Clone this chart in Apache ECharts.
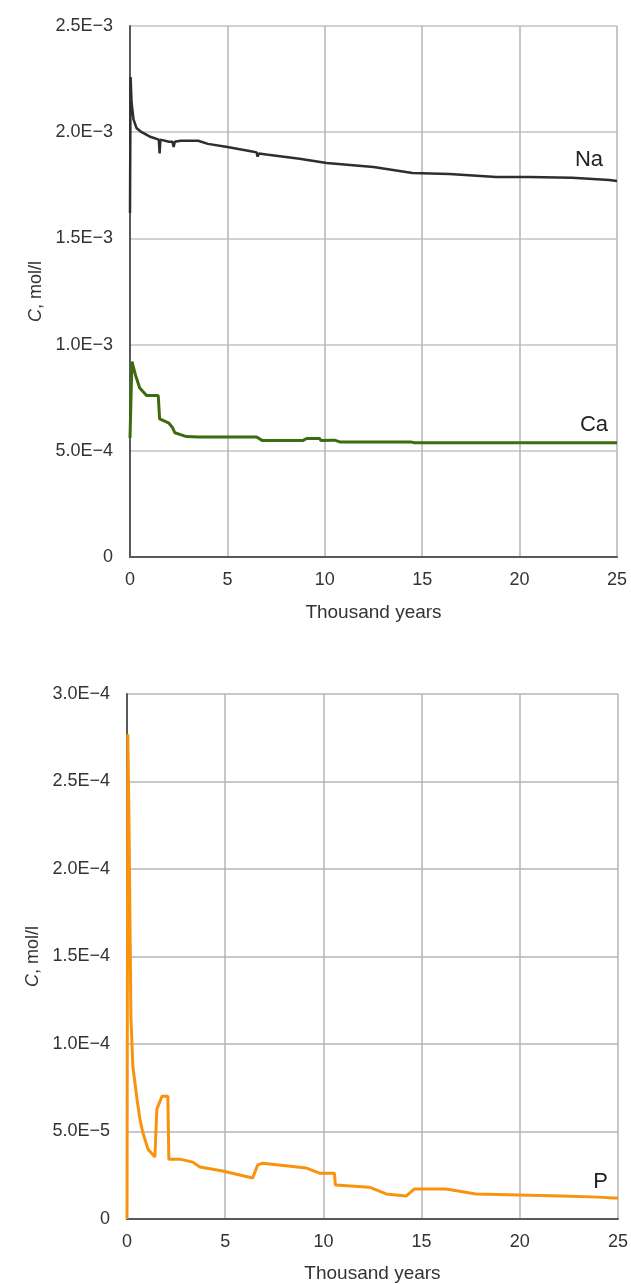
<!DOCTYPE html>
<html>
<head>
<meta charset="utf-8">
<script src="https://cdn.jsdelivr.net/npm/echarts@6/dist/echarts.min.js"></script>
<style>
html,body{margin:0;padding:0;background:#fff;}
#c{width:631px;height:1284px;}
</style>
</head>
<body>
<div id="c"></div>
<script>
// ---- data (thousand years, mol/l) ----
const naData = [
  [0.0,1.62e-3],[0.03,2.26e-3],[0.08,2.14e-3],[0.18,2.06e-3],[0.33,2.02e-3],[0.6,2.0e-3],
  [1.0,1.98e-3],[1.48,1.965e-3],[1.52,1.90e-3],[1.56,1.965e-3],[2.0,1.955e-3],[2.18,1.955e-3],
  [2.24,1.93e-3],[2.3,1.955e-3],[2.6,1.96e-3],[3.5,1.96e-3],[4.0,1.945e-3],[5.0,1.93e-3],
  [6.2,1.91e-3],[6.5,1.905e-3],[6.55,1.885e-3],[6.62,1.90e-3],[7.0,1.895e-3],[8.7,1.875e-3],
  [10.1,1.855e-3],[12.5,1.836e-3],[14.5,1.808e-3],[16.4,1.803e-3],[18.8,1.789e-3],
  [20.5,1.789e-3],[22.7,1.786e-3],[24.6,1.775e-3],[25.0,1.770e-3]
];
const caData = [
  [0.0,5.6e-4],[0.1,9.2e-4],[0.28,8.57e-4],[0.5,7.96e-4],[0.85,7.6e-4],[1.45,7.6e-4],
  [1.52,6.5e-4],[2.0,6.3e-4],[2.18,6.1e-4],[2.3,5.85e-4],[2.9,5.67e-4],[3.5,5.65e-4],
  [6.5,5.65e-4],[6.8,5.48e-4],[8.86,5.48e-4],[9.07,5.58e-4],[9.74,5.58e-4],[9.8,5.48e-4],
  [10.5,5.5e-4],[10.77,5.42e-4],[14.4,5.42e-4],[14.6,5.38e-4],[25.0,5.38e-4]
];
const pData = [
  [0.0,0],[0.04,2.77e-4],[0.1,2.3e-4],[0.15,2.3e-4],[0.2,1.15e-4],[0.3,8.7e-5],[0.51,6.84e-5],
  [0.66,5.7e-5],[0.8,4.96e-5],[1.07,3.99e-5],[1.42,3.54e-5],[1.52,6.27e-5],[1.78,7.01e-5],
  [2.08,7.01e-5],[2.13,3.42e-5],[2.69,3.42e-5],[3.35,3.25e-5],[3.71,2.97e-5],[4.87,2.74e-5],
  [6.4,2.34e-5],[6.65,3.08e-5],[6.9,3.19e-5],[9.14,2.91e-5],[9.8,2.62e-5],[10.56,2.62e-5],
  [10.61,1.94e-5],[12.34,1.82e-5],[13.2,1.43e-5],[14.21,1.31e-5],[14.62,1.71e-5],
  [16.24,1.71e-5],[17.77,1.43e-5],[19.95,1.37e-5],[22.13,1.31e-5],[24.01,1.25e-5],[24.77,1.2e-5],[25.0,1.2e-5]
];
const xTickLabels = ['0','5','10','15','20','25'];
const yTopLabels = ['0','5.0E\u22124','1.0E\u22123','1.5E\u22123','2.0E\u22123','2.5E\u22123'];
const yBottomLabels = ['0','5.0E\u22125','1.0E\u22124','1.5E\u22124','2.0E\u22124','2.5E\u22124','3.0E\u22124'];
const seriesNames = ['Na','Ca','P'];
const xName = 'Thousand years';

const FONT = '"Liberation Sans", Arial, sans-serif';
const chart = echarts.init(document.getElementById('c'));

function xAxis(gi, gap){
  return {
    type:'value', gridIndex:gi, min:0, max:25, interval:5,
    name:xName, nameLocation:'middle', nameGap:gap,
    nameTextStyle:{fontFamily:FONT,fontSize:19,color:'#333'},
    axisLine:{show:true,onZero:false,lineStyle:{color:'#595959',width:2}},
    axisTick:{show:false},
    axisLabel:{fontFamily:FONT,fontSize:18,color:'#333',margin:14,
      formatter:(v)=>xTickLabels[Math.round(v/5)]},
    splitLine:{show:true,lineStyle:{color:'#b5b5b5',width:1.5}}
  };
}
function yAxis(gi, max, interval, labels, hcolor, hwidth){
  return {
    type:'value', gridIndex:gi, min:0, max:max, interval:interval,
    name:'{i|C}, mol/l', nameLocation:'middle', nameGap:84, nameRotate:90,
    nameTextStyle:{fontFamily:FONT,fontSize:18,color:'#333',
      rich:{i:{fontFamily:FONT,fontSize:18,fontStyle:'italic',color:'#333'}}},
    axisLine:{show:true,lineStyle:{color:'#595959',width:2}},
    axisTick:{show:false},
    axisLabel:{fontFamily:FONT,fontSize:18,color:'#333',margin:17,
      formatter:(v)=>labels[Math.round(v/interval)]},
    splitLine:{show:true,lineStyle:{color:hcolor,width:hwidth}}
  };
}

chart.setOption({
  animation:false,
  backgroundColor:'#fff',
  grid:[
    {left:130,right:14,top:26,height:531},
    {left:127,right:13,top:694,height:526}
  ],
  xAxis:[xAxis(0,46), xAxis(1,45)],
  yAxis:[
    yAxis(0, 2.5e-3, 0.5e-3, yTopLabels, '#d2d2d2', 2),
    yAxis(1, 3.0e-4, 0.5e-4, yBottomLabels, '#b5b5b5', 1.5)
  ],
  series:[
    {name:seriesNames[0],type:'line',xAxisIndex:0,yAxisIndex:0,data:naData,showSymbol:false,
     lineStyle:{color:'#2e2e2e',width:2.5},itemStyle:{color:'#2e2e2e'},
     endLabel:{show:true,formatter:seriesNames[0],fontFamily:FONT,fontSize:22,color:'#222',
       align:'right',verticalAlign:'middle',distance:0,offset:[-14,-21]}},
    {name:seriesNames[1],type:'line',xAxisIndex:0,yAxisIndex:0,data:caData,showSymbol:false,
     lineStyle:{color:'#3d6b10',width:3},itemStyle:{color:'#3d6b10'},
     endLabel:{show:true,formatter:seriesNames[1],fontFamily:FONT,fontSize:22,color:'#222',
       align:'right',verticalAlign:'middle',distance:0,offset:[-9,-18]}},
    {name:seriesNames[2],type:'line',xAxisIndex:1,yAxisIndex:1,data:pData,showSymbol:false,
     lineStyle:{color:'#f7930f',width:3},itemStyle:{color:'#f7930f'},
     endLabel:{show:true,formatter:seriesNames[2],fontFamily:FONT,fontSize:22,color:'#222',
       align:'right',verticalAlign:'middle',distance:0,offset:[-10,-16]}}
  ]
});
</script>
</body>
</html>
